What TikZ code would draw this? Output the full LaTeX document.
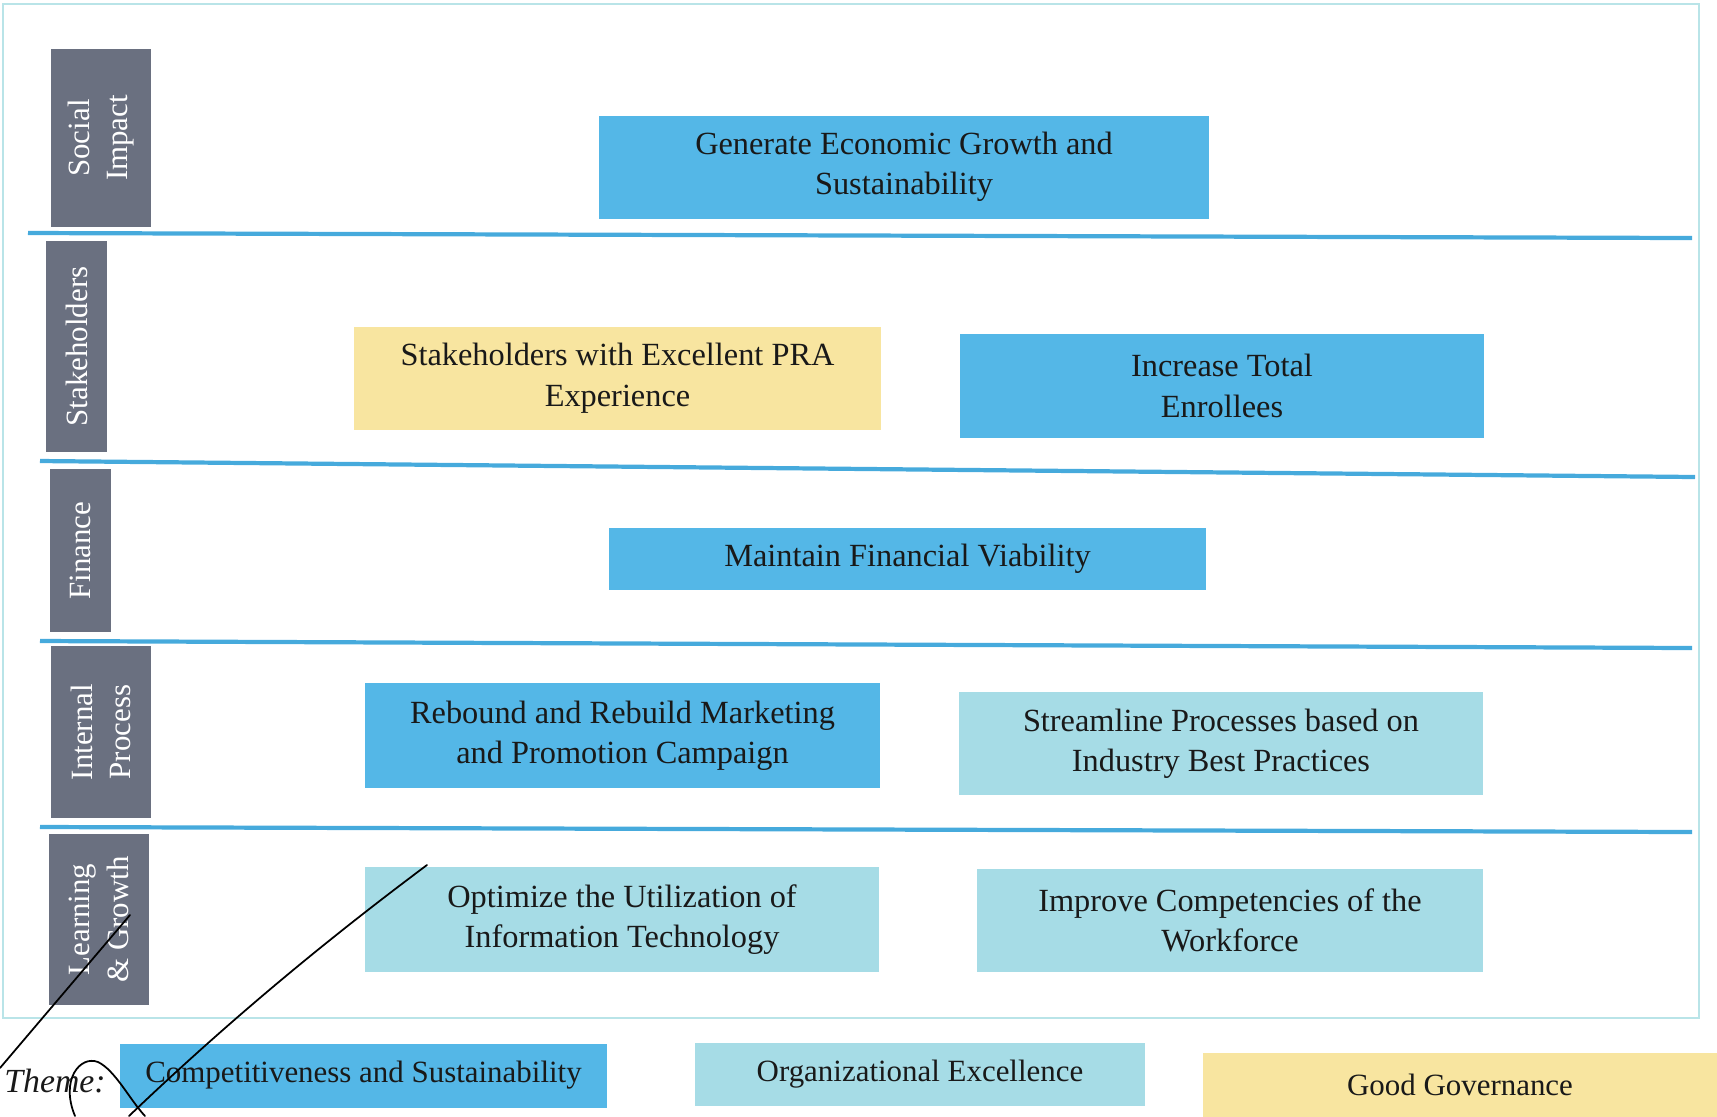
\documentclass[tikz,border=0pt]{standalone}
\usepackage{fontspec}
\setmainfont{Liberation Serif}
\usepackage{tikz}

\definecolor{goalblue}{RGB}{84,183,231}
\definecolor{goalcyan}{RGB}{166,220,230}
\definecolor{goalyellow}{RGB}{248,229,160}
\definecolor{perspgray}{RGB}{106,112,128}
\definecolor{lineblue}{RGB}{70,170,220}
\definecolor{framecyan}{RGB}{185,228,232}

\tikzset{
    goal/.style={align=center, inner sep=0pt, text=black!90, font=\fontsize{9.2}{11.5}\selectfont},
    themegoal/.style={font=\fontsize{8.8}{11}\selectfont},
    bluegoal/.style={goal, fill=goalblue},
    cyangoal/.style={goal, fill=goalcyan},
    yellowgoal/.style={goal, fill=goalyellow},
    persp/.style={fill=perspgray, text=white, rotate=90, align=center, inner sep=0pt, font=\fontsize{8.8}{11}\selectfont},
    sepline/.style={draw=lineblue, line width=1.2pt},
    scrawl/.style={draw=black, line width=0.5pt, line cap=round}
}

\begin{document}
\begin{tikzpicture}
    \useasboundingbox (0,0) rectangle (17.17,-11.16);
    \draw[framecyan, line width=0.5pt] (0.03,-0.04) rectangle (16.99,-10.18);

    \node[persp, minimum width=1.78cm, minimum height=1.00cm] (social) at (1.01,-1.38) {Social\\Impact};
    \node[persp, minimum width=2.11cm, minimum height=0.61cm] (stake) at (0.765,-3.465) {Stakeholders};
    \node[persp, minimum width=1.63cm, minimum height=0.61cm] (finance) at (0.805,-5.505) {Finance};
    \node[persp, minimum width=1.72cm, minimum height=1.00cm] (internal) at (1.01,-7.32) {Internal\\Process};
    \node[persp, minimum width=1.71cm, minimum height=1.00cm] (learning) at (0.99,-9.195) {Learning\\\& Growth};

    \draw[sepline] (0.28,-2.33) -- (16.92,-2.38);
    \draw[sepline] (0.40,-4.61) -- (16.95,-4.77);
    \draw[sepline] (0.40,-6.41) -- (16.92,-6.48);
    \draw[sepline] (0.40,-8.27) -- (16.92,-8.32);

    \node[bluegoal, minimum width=6.10cm, minimum height=1.03cm] (gen) at (9.04,-1.67) {Generate Economic Growth and\\Sustainability};
    \node[yellowgoal, minimum width=5.27cm, minimum height=1.03cm] (pra) at (6.175,-3.78) {Stakeholders with Excellent PRA\\Experience};
    \node[bluegoal, minimum width=5.24cm, minimum height=1.04cm] (enrol) at (12.22,-3.86) {Increase Total\\Enrollees};
    \node[bluegoal, minimum width=5.97cm, minimum height=0.62cm] (fin) at (9.075,-5.59) {Maintain Financial Viability};
    \node[bluegoal, minimum width=5.15cm, minimum height=1.05cm] (reb) at (6.225,-7.355) {Rebound and Rebuild Marketing\\and Promotion Campaign};
    \node[cyangoal, minimum width=5.24cm, minimum height=1.03cm] (strm) at (12.21,-7.435) {Streamline Processes based on\\Industry Best Practices};
    \node[cyangoal, minimum width=5.14cm, minimum height=1.05cm] (opt) at (6.22,-9.195) {Optimize the Utilization of\\Information Technology};
    \node[cyangoal, minimum width=5.06cm, minimum height=1.03cm] (imp) at (12.30,-9.205) {Improve Competencies of the\\Workforce};

    \node[goal, font=\fontsize{9.6}{11.5}\selectfont\itshape] (theme) at (0.55,-10.81) {Theme:};
    \node[bluegoal, themegoal, minimum width=4.87cm, minimum height=0.64cm] (comp) at (3.635,-10.755) {Competitiveness and Sustainability};
    \node[cyangoal, themegoal, minimum width=4.50cm, minimum height=0.63cm] (orgex) at (9.20,-10.74) {Organizational Excellence};
    \node[yellowgoal, themegoal, minimum width=5.14cm, minimum height=0.65cm] (gov) at (14.60,-10.85) {Good Governance};

    \draw[scrawl] (0.00,-10.68) -- (0.45,-10.15) -- (1.30,-9.15);
    \draw[scrawl] (1.29,-11.16) .. controls (2.40,-10.10) and (3.40,-9.30) .. (4.27,-8.65);
    \draw[scrawl] (0.75,-11.16) .. controls (0.60,-10.80) and (0.80,-10.55) .. (0.98,-10.62) .. controls (1.15,-10.70) and (1.30,-11.00) .. (1.45,-11.16);
\end{tikzpicture}
\end{document}
